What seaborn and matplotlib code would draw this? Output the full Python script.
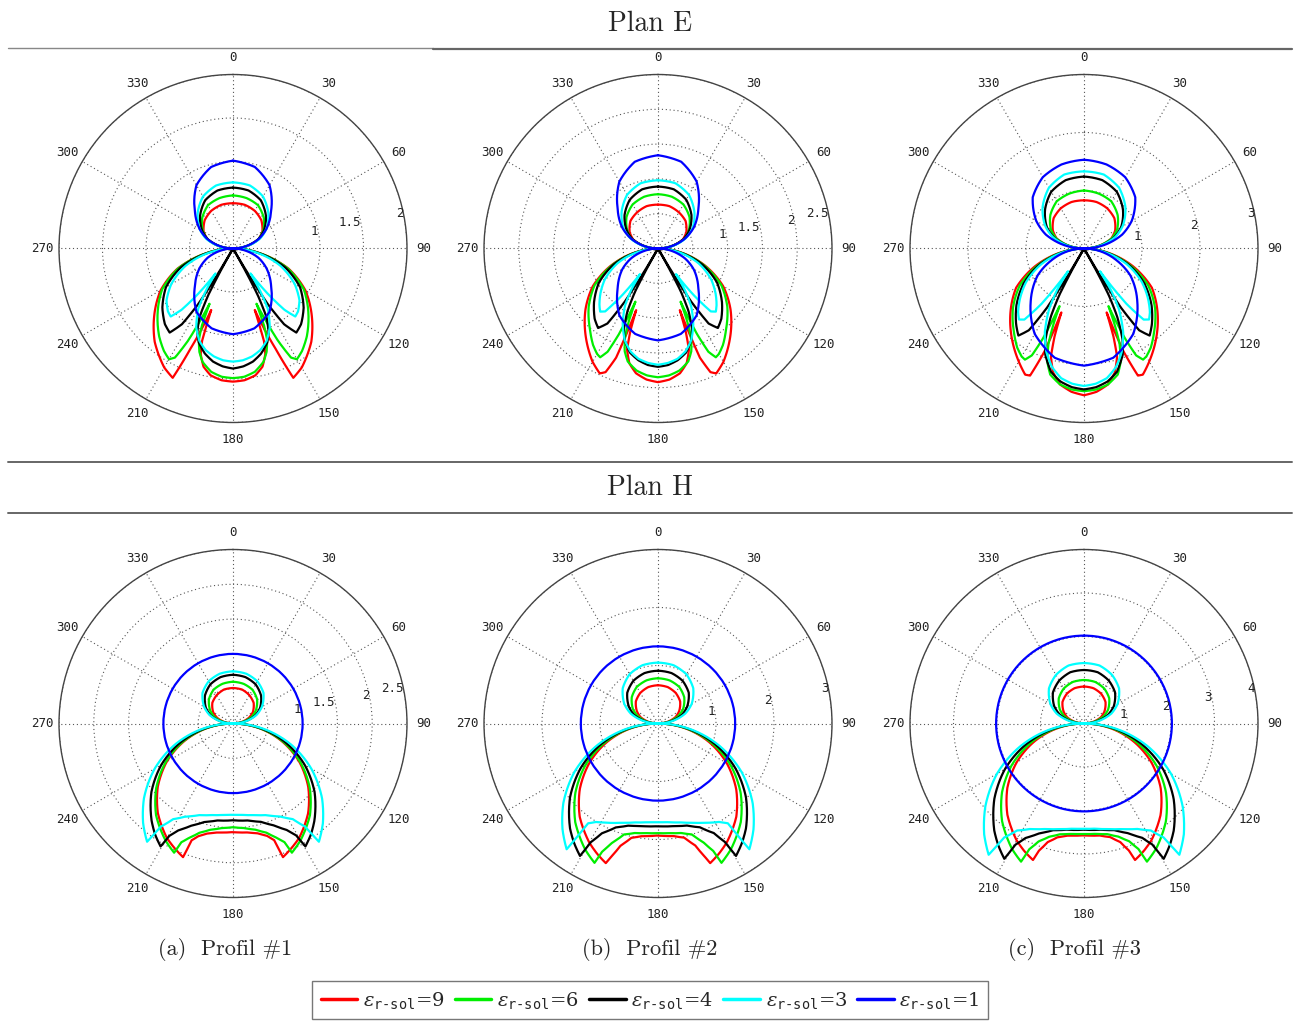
import numpy as np
import matplotlib
matplotlib.use("Agg")
import matplotlib.pyplot as plt
import seaborn as sns
from matplotlib.lines import Line2D

# Diagrammes de rayonnement (demi-diagramme 0..180 deg, symetrique)

# grilles angulaires, plan E
th_e_red = [0, 15, 30, 45, 60, 70, 80, 90, 95, 100, 110, 120, 130, 140, 150, 155, 157, 159, 160.5, 161.5, 163, 166, 170, 175, 180]
th_e_green = [0, 15, 30, 45, 60, 70, 80, 90, 95, 100, 110, 120, 130, 140, 146, 150, 152, 154, 155.5, 157, 158, 159.5, 162, 165, 170, 175, 180]
th_e_black = [0, 15, 30, 45, 60, 70, 80, 90, 95, 100, 110, 120, 130, 138, 143, 146, 148, 150, 152, 154, 157, 160, 165, 170, 175, 180]
th_e_cyan = [0, 15, 30, 45, 60, 70, 80, 90, 95, 100, 110, 120, 128, 134, 137.5, 140, 142.5, 145, 147, 150, 155, 160, 165, 170, 175, 180]
th_e_blue = [0, 15, 30, 45, 60, 70, 80, 90, 100, 110, 120, 135, 150, 165, 180]

# grilles angulaires, plan H
th_h_red = [0, 15, 30, 45, 60, 70, 80, 90, 100, 110, 120, 130, 140, 150, 155, 159.5, 160.5, 163, 167, 172, 180]
th_h_green = [0, 15, 30, 45, 60, 70, 80, 90, 100, 110, 120, 130, 140, 150, 155.5, 156.5, 159, 163, 168, 174, 180]
th_h_black = [0, 15, 30, 45, 60, 70, 80, 90, 100, 110, 120, 130, 140, 145, 149.5, 150.5, 153, 158, 164, 171, 180]
th_h_cyan = [0, 15, 30, 45, 60, 70, 80, 90, 100, 110, 120, 130, 138, 144, 145, 148, 153, 160, 167, 174, 180]
th_h_blue = [0, 30, 60, 90, 120, 150, 180]

# Plan E - Profil #1
e1_red = [0.52, 0.52, 0.50, 0.46, 0.39, 0.31, 0.16, 0, 0.15, 0.31, 0.68, 0.96, 1.18, 1.40, 1.58, 1.64, 1.25, 0.95, 0.75, 1.12, 1.27, 1.40, 1.48, 1.52, 1.53]
e1_green = [0.61, 0.60, 0.575, 0.50, 0.40, 0.31, 0.16, 0, 0.15, 0.31, 0.67, 0.94, 1.13, 1.32, 1.42, 1.47, 1.42, 1.18, 0.92, 0.69, 0.95, 1.12, 1.25, 1.35, 1.44, 1.48, 1.49]
e1_black = [0.70, 0.69, 0.64, 0.535, 0.41, 0.31, 0.16, 0, 0.15, 0.30, 0.64, 0.89, 1.06, 1.17, 1.21, 1.05, 0.75, 0.0, 0.6, 0.88, 1.05, 1.15, 1.25, 1.32, 1.36, 1.38]
e1_cyan = [0.76, 0.75, 0.69, 0.575, 0.44, 0.33, 0.17, 0, 0.14, 0.28, 0.58, 0.82, 0.97, 1.04, 1.06, 0.92, 0.65, 0.35, 0.55, 0.8, 1.0, 1.13, 1.21, 1.26, 1.29, 1.30]
e1_blue = [1.01, 0.97, 0.84, 0.62, 0.44, 0.31, 0.15, 0, 0.15, 0.31, 0.44, 0.62, 0.84, 0.95, 0.985]

# Plan E - Profil #2
e2_red = [0.63, 0.63, 0.60, 0.56, 0.47, 0.38, 0.2, 0, 0.16, 0.34, 0.72, 1.08, 1.36, 1.62, 1.88, 1.98, 1.93, 1.68, 0.94, 1.25, 1.52, 1.70, 1.82, 1.89, 1.92]
e2_green = [0.78, 0.77, 0.73, 0.64, 0.51, 0.40, 0.2, 0, 0.16, 0.33, 0.70, 1.05, 1.30, 1.52, 1.67, 1.75, 1.77, 1.65, 1.35, 0.83, 1.1, 1.35, 1.55, 1.68, 1.78, 1.83, 1.85]
e2_black = [0.89, 0.88, 0.81, 0.68, 0.52, 0.39, 0.2, 0, 0.16, 0.32, 0.68, 0.98, 1.2, 1.36, 1.43, 1.3, 0.9, 0, 0.7, 1.0, 1.25, 1.4, 1.55, 1.63, 1.68, 1.70]
e2_cyan = [0.98, 0.97, 0.89, 0.74, 0.57, 0.42, 0.22, 0, 0.15, 0.3, 0.62, 0.88, 1.05, 1.17, 1.23, 1.18, 0.85, 0.45, 0.7, 0.95, 1.2, 1.4, 1.53, 1.61, 1.65, 1.67]
e2_blue = [1.34, 1.29, 1.11, 0.82, 0.59, 0.41, 0.2, 0, 0.2, 0.41, 0.59, 0.82, 1.11, 1.27, 1.32]

# Plan E - Profil #3
e3_red = [0.83, 0.83, 0.80, 0.74, 0.62, 0.50, 0.26, 0, 0.2, 0.42, 0.9, 1.35, 1.65, 1.95, 2.25, 2.4, 2.38, 1.9, 1.17, 1.6, 1.95, 2.2, 2.38, 2.48, 2.53]
e3_green = [1.0, 0.98, 0.94, 0.82, 0.66, 0.51, 0.26, 0, 0.2, 0.4, 0.85, 1.28, 1.6, 1.88, 2.06, 2.15, 2.17, 2.05, 1.7, 1.08, 1.4, 1.75, 2.05, 2.25, 2.38, 2.44, 2.46]
e3_black = [1.24, 1.22, 1.13, 0.95, 0.74, 0.55, 0.28, 0, 0.19, 0.38, 0.82, 1.2, 1.52, 1.75, 1.88, 1.7, 1.2, 0, 0.9, 1.3, 1.7, 1.95, 2.2, 2.33, 2.4, 2.43]
e3_cyan = [1.33, 1.32, 1.21, 1.01, 0.77, 0.57, 0.29, 0, 0.18, 0.36, 0.78, 1.15, 1.4, 1.58, 1.66, 1.6, 1.2, 0.48, 0.85, 1.2, 1.6, 1.9, 2.12, 2.27, 2.34, 2.37]
e3_blue = [1.53, 1.50, 1.42, 1.25, 0.95, 0.70, 0.36, 0, 0.3, 0.6, 0.92, 1.3, 1.7, 1.95, 2.02]

# Plan H - Profil #1
h1_red = [0.51, 0.505, 0.47, 0.42, 0.33, 0.245, 0.13, 0, 0.38, 0.75, 1.10, 1.41, 1.68, 1.90, 1.98, 2.05, 1.78, 1.69, 1.62, 1.58, 1.56]
h1_green = [0.60, 0.59, 0.56, 0.49, 0.38, 0.29, 0.15, 0, 0.39, 0.77, 1.12, 1.44, 1.72, 1.94, 2.04, 1.86, 1.76, 1.64, 1.56, 1.51, 1.49]
h1_black = [0.70, 0.69, 0.65, 0.57, 0.45, 0.34, 0.18, 0, 0.41, 0.81, 1.19, 1.53, 1.82, 1.95, 2.05, 1.85, 1.72, 1.58, 1.47, 1.41, 1.39]
h1_cyan = [0.75, 0.74, 0.70, 0.62, 0.48, 0.36, 0.19, 0, 0.45, 0.89, 1.3, 1.67, 1.93, 2.1, 1.81, 1.62, 1.5, 1.4, 1.35, 1.32, 1.31]
h1_blue = [1.0, 1.0, 1.0, 1.0, 1.0, 1.0, 1.0]

# Plan H - Profil #2
h2_red = [0.66, 0.65, 0.61, 0.54, 0.42, 0.32, 0.17, 0, 0.48, 0.94, 1.37, 1.76, 2.10, 2.37, 2.48, 2.57, 2.45, 2.2, 2.02, 1.96, 1.93]
h2_green = [0.78, 0.77, 0.73, 0.64, 0.5, 0.37, 0.2, 0, 0.5, 0.99, 1.45, 1.86, 2.22, 2.51, 2.64, 2.4, 2.2, 2.0, 1.93, 1.9, 1.89]
h2_black = [0.91, 0.9, 0.85, 0.75, 0.58, 0.44, 0.23, 0, 0.53, 1.05, 1.54, 1.98, 2.36, 2.52, 2.65, 2.35, 2.12, 1.93, 1.83, 1.79, 1.77]
h2_cyan = [1.05, 1.04, 0.98, 0.86, 0.67, 0.5, 0.26, 0, 0.57, 1.13, 1.66, 2.13, 2.46, 2.68, 2.1, 2.0, 1.92, 1.82, 1.75, 1.71, 1.70]
h2_blue = [1.33, 1.33, 1.33, 1.33, 1.33, 1.33, 1.33]

# Plan H - Profil #3
h3_red = [0.85, 0.84, 0.79, 0.70, 0.54, 0.41, 0.21, 0, 0.62, 1.22, 1.79, 2.3, 2.74, 3.1, 3.24, 3.35, 3.1, 2.85, 2.68, 2.6, 2.57]
h3_green = [1.0, 0.99, 0.93, 0.82, 0.64, 0.48, 0.25, 0, 0.67, 1.31, 1.92, 2.46, 2.93, 3.32, 3.49, 3.15, 2.9, 2.72, 2.6, 2.55, 2.54]
h3_black = [1.23, 1.22, 1.14, 1.01, 0.79, 0.59, 0.31, 0, 0.73, 1.43, 2.1, 2.69, 3.21, 3.43, 3.61, 3.2, 2.95, 2.72, 2.55, 2.47, 2.44]
h3_cyan = [1.39, 1.38, 1.29, 1.14, 0.89, 0.67, 0.35, 0, 0.8, 1.58, 2.31, 2.96, 3.43, 3.73, 3.2, 2.9, 2.72, 2.58, 2.49, 2.43, 2.42]
h3_blue = [2.02, 2.02, 2.02, 2.02, 2.02, 2.02, 2.02]

legend_labels = [r"$\varepsilon_{\mathtt{r‐sol}}$=9", r"$\varepsilon_{\mathtt{r‐sol}}$=6",
                 r"$\varepsilon_{\mathtt{r‐sol}}$=4", r"$\varepsilon_{\mathtt{r‐sol}}$=3",
                 r"$\varepsilon_{\mathtt{r‐sol}}$=1"]
couleurs = ["#ff0000", "#00ee00", "#000000", "#00ffff", "#0000ff"]

sns.set_theme(style="white")
plt.rcParams["font.family"] = ["DejaVu Sans"]
plt.rcParams["mathtext.fontset"] = "dejavuserif"

W, H = 1295, 1021
R = 174
fig = plt.figure(figsize=(W / 100, H / 100), dpi=100)
serif = ["cmr10", "DejaVu Serif"]


def demi_vers_complet(th, r):
    th = np.asarray(th, float)
    r = np.asarray(r, float)
    t = np.concatenate([th, 360 - th[::-1][1:]])
    rr = np.concatenate([r, r[::-1][1:]])
    return np.deg2rad(t), rr


def panneau(cx, cy, rmax, rings, labels, courbes):
    ax = fig.add_axes([(cx - R) / W, 1 - (cy + R) / H, 2 * R / W, 2 * R / H],
                      projection="polar")
    ax.set_theta_zero_location("N")
    ax.set_theta_direction(-1)
    ax.set_ylim(0, rmax)
    ax.set_yticks(rings)
    ax.set_yticklabels([])
    ax.set_xticks(np.deg2rad(np.arange(0, 360, 30)))
    ax.set_xticklabels([])
    ax.grid(True, color="#555555", linestyle=(0, (1, 2.5)), linewidth=0.8)
    ax.spines["polar"].set_color("#444444")
    ax.spines["polar"].set_linewidth(1.0)
    for a in range(0, 360, 30):
        ax.text(np.deg2rad(a), rmax * 1.098, str(a), ha="center", va="center",
                fontsize=9, family="DejaVu Sans Mono", color="#222222")
    for rv in labels:
        ax.text(np.deg2rad(78.5), rv, f"{rv:g}", ha="right", va="center",
                fontsize=9, family="DejaVu Sans Mono", color="#222222")
    for (th, r), c in zip(courbes, couleurs):
        t, rr = demi_vers_complet(th, r)
        sns.lineplot(x=t, y=rr, ax=ax, color=c, lw=1.6, sort=False, estimator=None)
        # trace en arcs polaires entre points (rendu polaire de matplotlib)
        ax.lines[-1].get_path()._interpolation_steps = 40
    ax.set_xlabel("")
    ax.set_ylabel("")
    return ax


panneau(233, 248.5, 2.0, [0.5, 1, 1.5, 2], [1, 1.5, 2],
        [(th_e_red, e1_red), (th_e_green, e1_green), (th_e_black, e1_black),
         (th_e_cyan, e1_cyan), (th_e_blue, e1_blue)])
panneau(658, 248.5, 2.5, [0.5, 1, 1.5, 2, 2.5], [1, 1.5, 2, 2.5],
        [(th_e_red, e2_red), (th_e_green, e2_green), (th_e_black, e2_black),
         (th_e_cyan, e2_cyan), (th_e_blue, e2_blue)])
panneau(1084, 248.5, 3.0, [1, 2, 3], [1, 2, 3],
        [(th_e_red, e3_red), (th_e_green, e3_green), (th_e_black, e3_black),
         (th_e_cyan, e3_cyan), (th_e_blue, e3_blue)])
panneau(233, 723.5, 2.5, [0.5, 1, 1.5, 2, 2.5], [1, 1.5, 2, 2.5],
        [(th_h_red, h1_red), (th_h_green, h1_green), (th_h_black, h1_black),
         (th_h_cyan, h1_cyan), (th_h_blue, h1_blue)])
panneau(658, 723.5, 3.0, [1, 2, 3], [1, 2, 3],
        [(th_h_red, h2_red), (th_h_green, h2_green), (th_h_black, h2_black),
         (th_h_cyan, h2_cyan), (th_h_blue, h2_blue)])
panneau(1084, 723.5, 4.0, [1, 2, 3, 4], [1, 2, 3, 4],
        [(th_h_red, h3_red), (th_h_green, h3_green), (th_h_black, h3_black),
         (th_h_cyan, h3_cyan), (th_h_blue, h3_blue)])

# titres et filets
fig.text(650 / W, 1 - 24 / H, "Plan E", ha="center", va="center", fontsize=20, family=serif)
fig.text(650 / W, 1 - 488 / H, "Plan H", ha="center", va="center", fontsize=20, family=serif)
for x, s in [(225, "(a)  Profil #1"), (650, "(b)  Profil #2"), (1075, "(c)  Profil #3")]:
    fig.text(x / W, 1 - 949 / H, s, ha="center", va="center", fontsize=16, family=serif)

fig.add_artist(Line2D([8 / W, 433 / W], [1 - 48.5 / H] * 2, color="#888888", lw=1.0))
fig.add_artist(Line2D([433 / W, 1292 / W], [1 - 49 / H] * 2, color="#666666", lw=1.6))
for y in (462, 513):
    fig.add_artist(Line2D([8 / W, 1292 / W], [1 - y / H] * 2, color="#666666", lw=1.4))

poignees = [Line2D([], [], color=c, lw=2.5) for c in couleurs]
fig.legend(poignees, legend_labels, loc="center", bbox_to_anchor=(650 / W, 1 - 1000 / H),
           ncol=5, frameon=True, fancybox=False, edgecolor="#777777", framealpha=1,
           prop={"family": "DejaVu Serif", "size": 14}, handlelength=1.9,
           handletextpad=0.3, columnspacing=0.5, borderpad=0.45, borderaxespad=0)

fig.savefig("out.png", dpi=100)
